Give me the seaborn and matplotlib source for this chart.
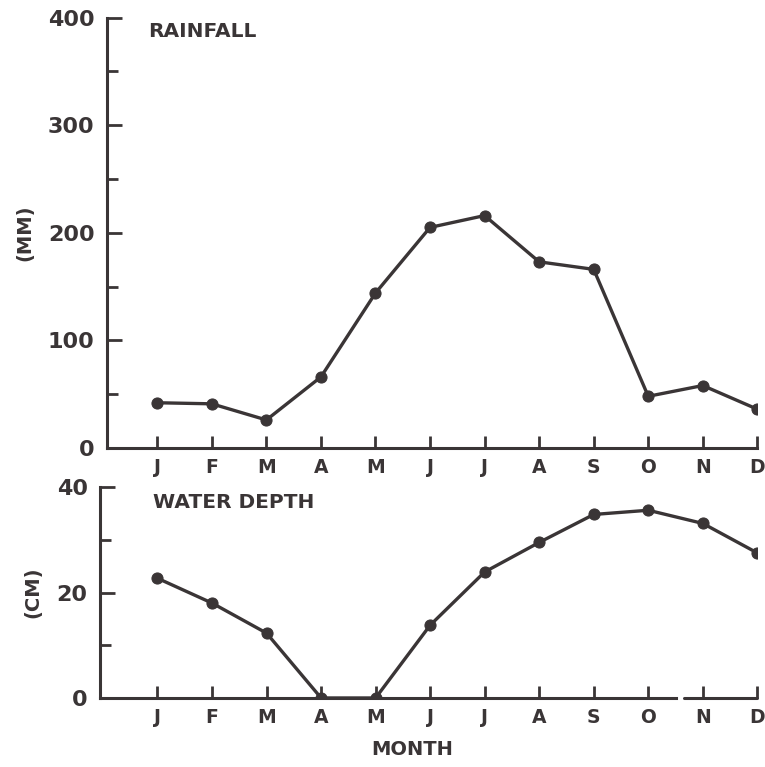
import numpy as np
import pandas as pd
from matplotlib import pyplot as plt
import seaborn as sns

# monthly values
months = ['J', 'F', 'M', 'A', 'M', 'J', 'J', 'A', 'S', 'O', 'N', 'D']
month_num = list(range(1, 13))
rainfall_mm = [42, 41, 26, 66, 144, 205, 216, 173, 166, 48, 58, 36]
water_depth_cm = [22.7, 18.0, 12.3, 0, 0, 13.8, 23.9, 29.5, 34.8, 35.6, 33.1, 27.5]

sns.set_style('white')
plt.rcParams['font.family'] = ['DejaVu Sans']
plt.rcParams['font.weight'] = 'bold'

ink = '#3a3536'
df = pd.DataFrame({'month': month_num, 'rain': rainfall_mm, 'depth': water_depth_cm})

fig = plt.figure(figsize=(7.65, 7.67), dpi=100)
ax1 = fig.add_axes([0.14, 0.416, 0.85, 0.561])
ax2 = fig.add_axes([0.131, 0.09, 0.859, 0.275])

# top panel: rainfall
sns.lineplot(data=df, x='month', y='rain', ax=ax1, color=ink, lw=2.4,
             marker='o', markersize=8, markeredgecolor=ink)
ax1.set_ylim(0, 400)
ax1.set_xlim(0.08, 12)
ax1.set_yticks([0, 100, 200, 300, 400])
ax1.set_yticks([50, 150, 250, 350], minor=True)
ax1.set_xticks(month_num)
ax1.set_xticklabels(months)
ax1.set_xlabel('')
ax1.set_ylabel('(MM)', fontsize=14, fontweight='bold', labelpad=10)
ax1.text(0.063, 0.99, 'RAINFALL', transform=ax1.transAxes, fontsize=14.5,
         fontweight='bold', color=ink, va='top')

# bottom panel: water depth
sns.lineplot(data=df, x='month', y='depth', ax=ax2, color=ink, lw=2.4,
             marker='o', markersize=8, markeredgecolor=ink)
ax2.set_ylim(0, 40)
ax2.set_xlim(0.08 - 0.13, 12)
ax2.set_yticks([0, 20, 40])
ax2.set_yticks([10, 30], minor=True)
ax2.set_xticks(month_num)
ax2.set_xticklabels(months)
ax2.set_xlabel('MONTH', fontsize=14, fontweight='bold')
ax2.xaxis.set_label_coords(0.475, -0.2)
ax2.set_ylabel('(CM)', fontsize=14, fontweight='bold', labelpad=10)
ax2.text(0.08, 0.97, 'WATER DEPTH', transform=ax2.transAxes, fontsize=14.5,
         fontweight='bold', color=ink, va='top')

# broken x axis between O and N
ax2.spines['bottom'].set_bounds(-0.05, 10.5)
ax2.plot([10.65, 12], [0, 0], color=ink, lw=2.2, clip_on=False, zorder=1)

for ax in (ax1, ax2):
    for side in ('top', 'right'):
        ax.spines[side].set_visible(False)
    for side in ('left', 'bottom'):
        ax.spines[side].set_color(ink)
        ax.spines[side].set_linewidth(2.2)
    ax.tick_params(axis='both', which='both', direction='in', color=ink, width=2,
                   bottom=True, left=True, top=False, right=False)
    ax.tick_params(axis='y', which='major', length=11, labelsize=16, pad=9, labelcolor=ink)
    ax.tick_params(axis='y', which='minor', length=8)
    ax.tick_params(axis='x', which='major', length=9, labelsize=13.5, pad=7, labelcolor=ink)
    ax.tick_params(axis='x', which='minor', bottom=False)
    ax.yaxis.label.set_color(ink)
    ax.xaxis.label.set_color(ink)
    for lab in ax.get_xticklabels() + ax.get_yticklabels():
        lab.set_fontweight('bold')

fig.savefig('out.png', dpi=100, facecolor='white')
